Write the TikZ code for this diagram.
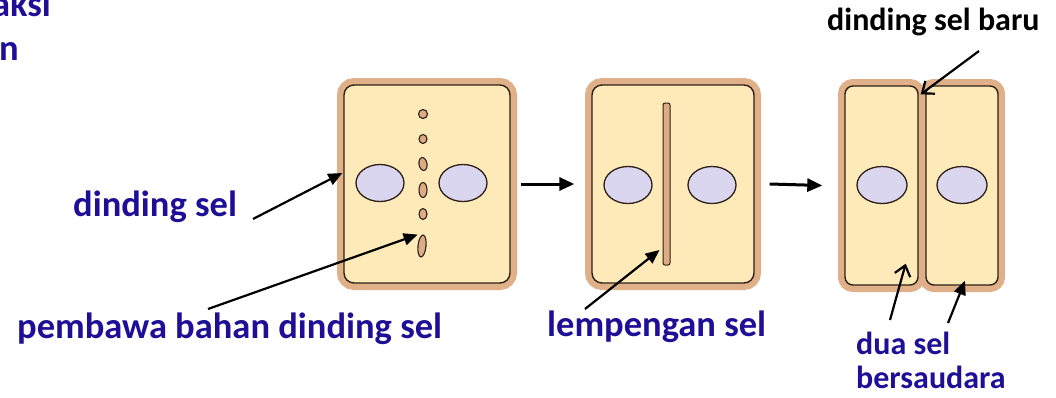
\documentclass[tikz,border=0pt]{standalone}
\usepackage{fontspec}
\setmainfont{Carlito}
\usetikzlibrary{arrows.meta,shapes.geometric}
\definecolor{labelblue}{RGB}{30,15,150}
\definecolor{cellfill}{RGB}{253,234,184}
\definecolor{walltan}{RGB}{224,176,136}
\definecolor{outline}{RGB}{45,32,24}
\definecolor{nucfill}{RGB}{218,214,240}
\definecolor{vesfill}{RGB}{222,172,132}
\begin{document}
\begin{tikzpicture}[x=1pt,y=-1pt,
  cellbox/.style={rectangle, draw=outline, line width=1.4pt, fill=cellfill,
    rounded corners=10pt, inner sep=0pt,
    preaction={draw=walltan, line width=14pt}},
  nucleus/.style={ellipse, draw=outline, line width=1.3pt, fill=nucfill,
    minimum width=48pt, minimum height=37pt, inner sep=0pt},
  vesicle/.style={ellipse, draw=outline, line width=1.1pt, fill=vesfill, inner sep=0pt},
  lbl/.style={font=\bfseries\fontsize{36.5}{40}\selectfont, text=labelblue, inner sep=0pt},
  lblsmall/.style={font=\bfseries\fontsize{32}{34}\selectfont, inner sep=0pt},
  ptr/.style={-{Triangle[length=14pt,width=12pt]}, line width=2.2pt, black},
  ptropen/.style={-{Straight Barb[length=10pt,width=16pt]}, line width=2.2pt, black},
  flow/.style={-{Triangle[length=15pt,width=13pt]}, line width=3pt, black}]
\useasboundingbox (0,0) rectangle (1056,397);

% first stage: vesicles lining up between the two nuclei
\node[cellbox, minimum width=166pt, minimum height=198pt] (cellA) at (427,184) {};
\node[nucleus] (nucA1) at (380,183) {};
\node[nucleus] (nucA2) at (463,183) {};
\node[vesicle, minimum width=9pt, minimum height=9pt] (vesA1) at (423,114) {};
\node[vesicle, minimum width=8pt, minimum height=9pt] (vesA2) at (423,139) {};
\node[vesicle, minimum width=8pt, minimum height=13pt, rotate=10] (vesA3) at (423,164) {};
\node[vesicle, minimum width=8pt, minimum height=15pt] (vesA4) at (423,190) {};
\node[vesicle, minimum width=8pt, minimum height=11pt] (vesA5) at (423,214) {};
\node[vesicle, minimum width=8pt, minimum height=22pt, rotate=-6] (vesA6) at (422,246) {};

% second stage: the cell plate
\node[cellbox, minimum width=162pt, minimum height=198pt] (cellB) at (673,184) {};
\node[nucleus] (nucB1) at (628,185) {};
\node[nucleus] (nucB2) at (712,185) {};
\node[rectangle, draw=outline, line width=1pt, fill=vesfill, rounded corners=2pt,
  minimum width=7pt, minimum height=162pt, inner sep=0pt] (plate) at (666.5,184) {};

% third stage: two daughter cells
\node[cellbox, rounded corners=8pt, minimum width=73pt, minimum height=199pt] (cellC1) at (881.5,185.5) {};
\node[cellbox, rounded corners=8pt, minimum width=72pt, minimum height=199pt] (cellC2) at (962,185.5) {};
\node[nucleus, minimum width=50pt] (nucC1) at (882,185) {};
\node[nucleus, minimum width=50pt] (nucC2) at (962,185) {};

% stage arrows
\draw[flow] ([xshift=10pt]cellA.east) -- ([xshift=-17pt]cellB.west);
\draw[flow] ([xshift=15pt]cellB.east) -- ([xshift=-22pt]cellC1.west);

% labels
\node[lbl, anchor=base east] (cutA) at (51,16) {aksi};
\node[lbl, anchor=base east] (cutB) at (19,60) {n};
\node[lbl, anchor=base west] (lblWall) at (73,216) {dinding sel};
\node[lbl, anchor=base west] (lblCarrier) at (17,338) {pembawa bahan dinding sel};
\node[lbl, anchor=base west] (lblPlate) at (547,336) {lempengan sel};
\node[lblsmall, anchor=base west] (lblNew) at (827,30) {dinding sel baru};
% base of a two-line node is the baseline of its last line
\node[lblsmall, text=labelblue, align=left, anchor=base west] (lblSisters) at (856,388) {dua sel\\bersaudara};

% label pointers
\coordinate (tailWall) at (253,219);
\coordinate (tailCarrier) at (208,309);
\coordinate (tailPlate) at (585,309);
\coordinate (tailNew) at (979,51);
\coordinate (tailSisA) at (890,320);
\coordinate (tailSisB) at (948,323);
\draw[ptr] (tailWall) -- ([yshift=11pt,xshift=-1pt]cellA.west);
\draw[ptr] (tailCarrier) -- ([xshift=-2pt,yshift=3pt]vesA6.north west);
\draw[ptr] (tailPlate) -- ([xshift=-3pt,yshift=-66pt]plate.west);
\draw[ptropen] (tailNew) -- ([xshift=2pt,yshift=-9pt]cellC1.north east);
\draw[ptropen] (tailSisA) -- ([xshift=-13pt,yshift=22pt]cellC1.south east);
\draw[ptr] (tailSisB) -- ([xshift=3pt,yshift=5pt]cellC2.south);
\end{tikzpicture}
\end{document}
